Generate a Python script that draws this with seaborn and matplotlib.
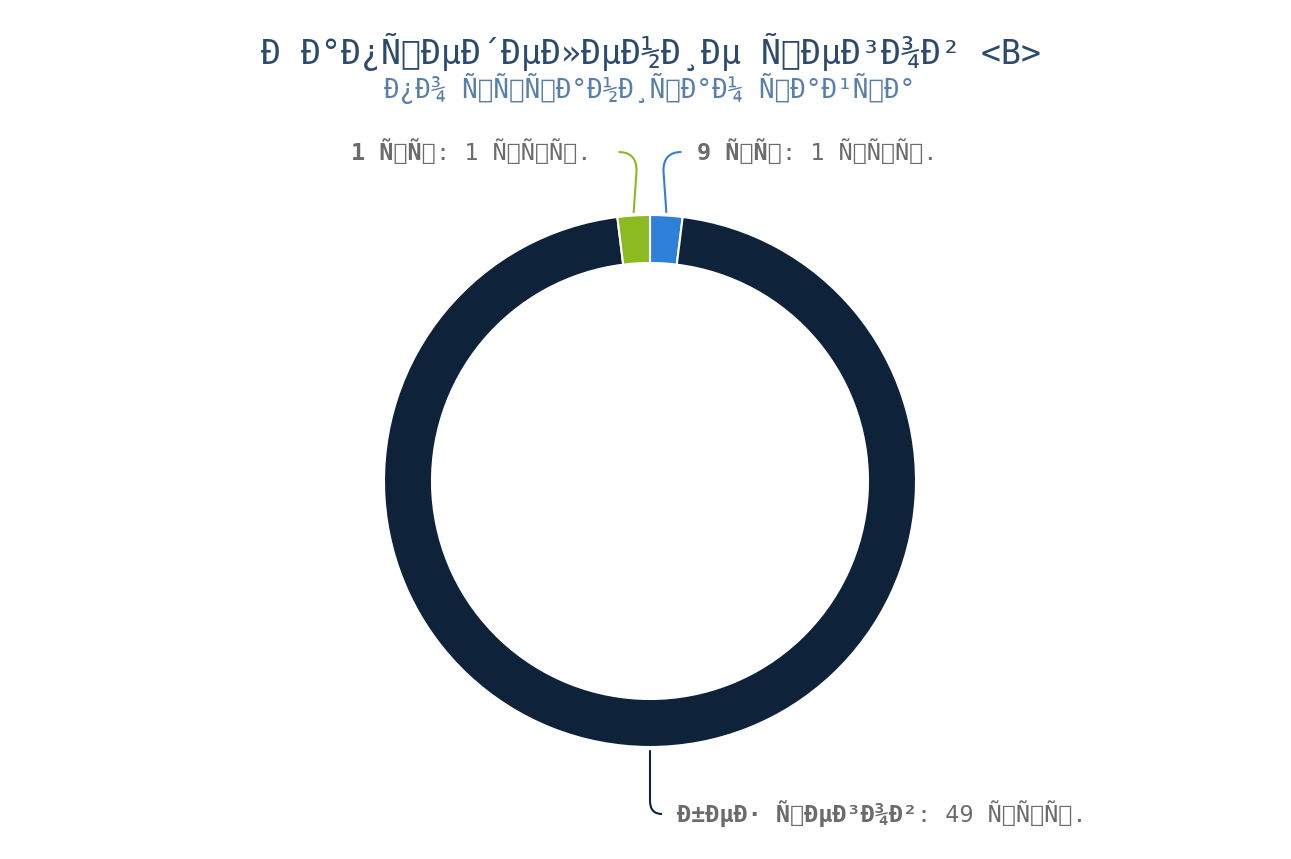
import numpy as np
import matplotlib
matplotlib.use("Agg")
import matplotlib.pyplot as plt
from matplotlib.path import Path
from matplotlib.patches import PathPatch
import seaborn as sns


def moji(s):
    # text in the reference is utf-8 read as latin-1
    return s.encode("utf-8").decode("latin-1")


title = moji("Рапределение тегов <B>")
subtitle = moji("по страницам сайта")

names = [moji("9 шт"), moji("без тегов"), moji("1 шт")]
pages = [1, 49, 1]
page_suffix = moji("стр.")
colors = ["#2f80d9", "#0e233a", "#8bba21"]

sns.set_theme(style="white")
mono = "DejaVu Sans Mono"
plt.rcParams["font.family"] = [mono, "DejaVu Sans"]

W, H, DPI = 1291, 859, 100
fig = plt.figure(figsize=(W / DPI, H / DPI), dpi=DPI)
fig.patch.set_facecolor("white")

# pixel layout of the donut
cx, cy, R, ring = 650, 481, 266, 48
ax = fig.add_axes([0, 0, 1, 1])
ax.pie(pages, colors=colors, startangle=90, counterclock=False, radius=1,
       wedgeprops=dict(width=ring / R, edgecolor="white", linewidth=1.5))
ax.set_aspect("auto")
ax.set_xlim(-cx / R, (W - cx) / R)
ax.set_ylim(-(H - cy) / R, cy / R)
ax.axis("off")

fig.text(651 / W, 1 - 52 / H, title, ha="center", va="center", fontsize=23.9,
         color="#2b4a6c")
fig.text(650 / W, 1 - 88 / H, subtitle, ha="center", va="center", fontsize=18.6,
         color="#5a7eaa")

# mid angle of each slice
frac = np.cumsum([0] + pages) / sum(pages)
mids = [np.deg2rad(90 - 360 * (frac[i] + frac[i + 1]) / 2) for i in range(len(pages))]

label_y_top = (cy - 152) / R
fs = 16.9
gray = "#6b6b6b"


def leader(p0, p1, end, color):
    verts = [p0, p1, (p1[0], end[1]), end]
    codes = [Path.MOVETO, Path.LINETO, Path.CURVE3, Path.CURVE3]
    ax.add_patch(PathPatch(Path(verts, codes), fill=False, edgecolor=color, lw=1.5))


def label(x, y, bold, rest, side):
    if side == "right":
        t = ax.text(x, y, rest, ha="right", va="center", fontsize=fs, color=gray)
        ax.annotate(bold, xy=(0, 0.5), xycoords=t, ha="right", va="center",
                    fontsize=fs, fontweight="bold", color=gray)
    else:
        t = ax.text(x, y, bold, ha="left", va="center", fontsize=fs,
                    fontweight="bold", color=gray)
        ax.annotate(rest, xy=(1, 0.5), xycoords=t, ha="left", va="center",
                    fontsize=fs, color=gray)


for i, name in enumerate(names):
    a = mids[i]
    ax0, ay0 = np.cos(a), np.sin(a)
    rest = f": {pages[i]} {page_suffix}"
    if ay0 > 0.5:
        side = 1 if ax0 > 0 else -1
        end = (side * 0.118, label_y_top)
        p1 = (ax0 - side * 0.011, label_y_top - 0.07)
        leader((ax0, ay0 + 0.01), p1, end, colors[i])
        if side < 0:
            label(-(650 - 591) / R, label_y_top, name, rest, "right")
        else:
            label((697 - 650) / R, label_y_top, name, rest, "left")
    else:
        y_end = -(814 - cy) / R
        leader((ax0, ay0 - 0.012), (ax0, y_end + 0.05), (ax0 + 0.045, y_end), colors[i])
        label((677 - cx) / R, y_end, name, rest, "left")

fig.savefig("out.png", dpi=DPI, facecolor="white")
